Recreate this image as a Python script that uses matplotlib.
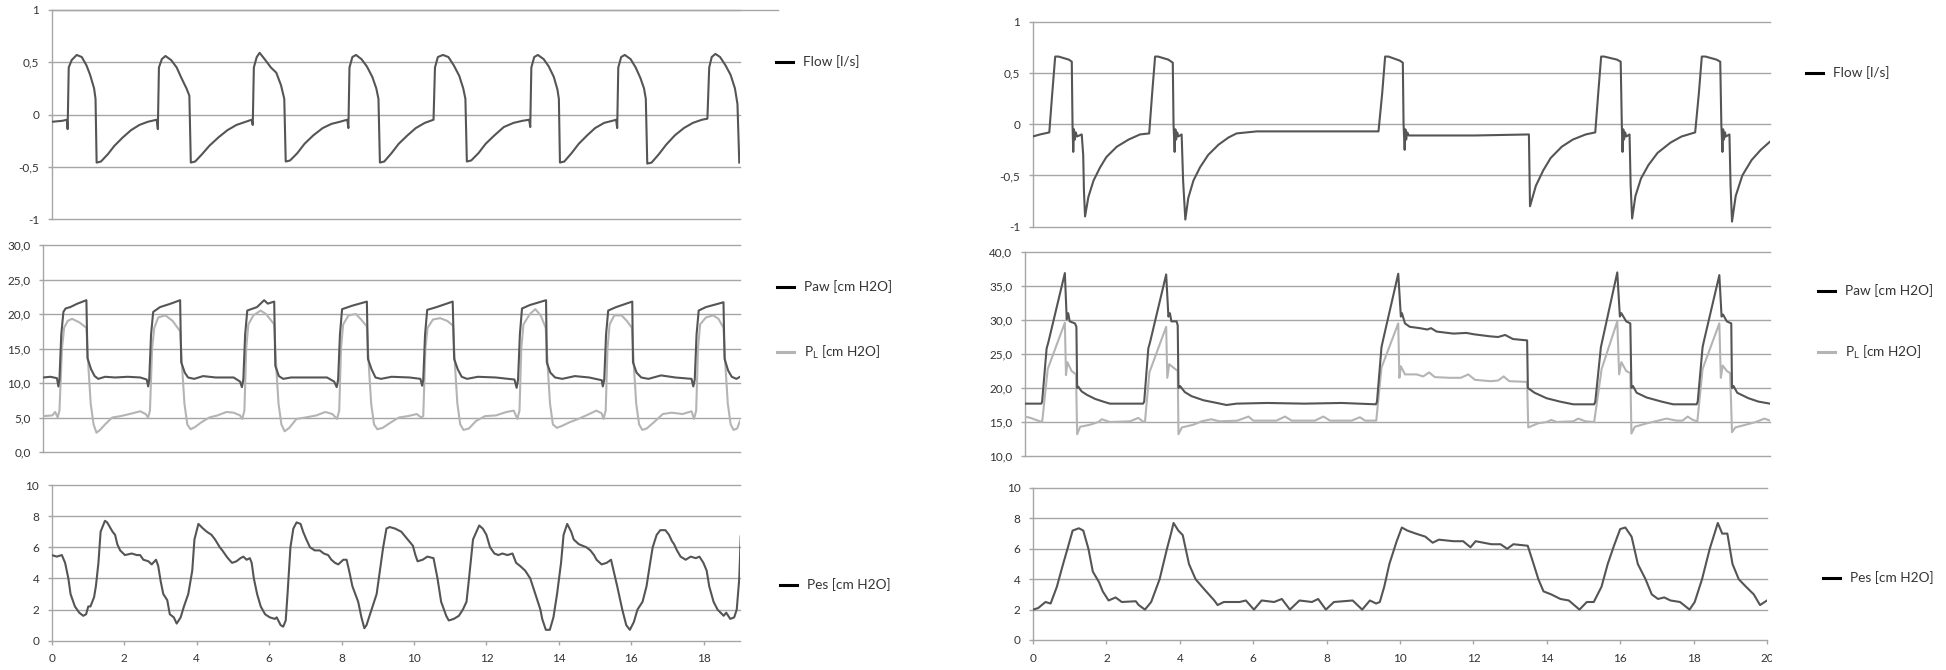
import matplotlib
matplotlib.use("Agg")
import matplotlib.pyplot as plt
from matplotlib.lines import Line2D
from matplotlib.transforms import Bbox, TransformedBbox

plt.rcParams['font.family'] = ['Lato', 'DejaVu Sans']

W, H = 1946, 670

# ---- left recording (t in s) ----
left_flow = [
    (0.00, -0.07), (0.30, -0.06), (0.42, -0.05), (0.44, -0.14), (0.47, 0.45), (0.55, 0.52), (0.69, 0.57),
    (0.83, 0.55), (0.96, 0.47), (1.06, 0.38), (1.17, 0.25), (1.21, 0.15), (1.24, -0.46), (1.36, -0.45),
    (1.55, -0.38), (1.73, -0.30), (1.96, -0.22), (2.19, -0.15), (2.42, -0.10), (2.65, -0.07), (2.90, -0.05),
    (2.93, -0.14), (2.96, 0.45), (3.04, 0.53), (3.14, 0.56), (3.30, 0.52), (3.45, 0.45), (3.58, 0.35),
    (3.72, 0.25), (3.80, 0.18), (3.84, -0.46), (3.96, -0.45), (4.15, -0.38), (4.35, -0.30), (4.60, -0.22),
    (4.85, -0.15), (5.10, -0.10), (5.35, -0.07), (5.52, -0.05),
    (5.55, -0.10), (5.58, 0.45), (5.66, 0.55), (5.74, 0.59), (5.90, 0.52), (6.05, 0.45), (6.20, 0.40),
    (6.33, 0.28), (6.42, 0.15), (6.46, -0.45), (6.58, -0.44), (6.78, -0.37), (6.98, -0.28), (7.22, -0.20),
    (7.48, -0.13), (7.72, -0.09), (7.95, -0.07), (8.16, -0.05),
    (8.19, -0.13), (8.22, 0.45), (8.30, 0.55), (8.40, 0.57), (8.55, 0.53), (8.70, 0.46), (8.85, 0.36),
    (8.96, 0.25), (9.02, 0.15), (9.06, -0.46), (9.18, -0.45), (9.38, -0.37), (9.58, -0.28), (9.82, -0.20),
    (10.05, -0.13), (10.30, -0.08), (10.54, -0.05),
    (10.58, 0.45), (10.66, 0.55), (10.80, 0.57), (10.95, 0.55), (11.10, 0.47), (11.25, 0.37), (11.36, 0.25),
    (11.42, 0.15), (11.46, -0.45), (11.58, -0.44), (11.78, -0.37), (11.98, -0.28), (12.22, -0.20),
    (12.48, -0.12), (12.75, -0.08), (13.00, -0.06), (13.18, -0.05),
    (13.21, -0.12), (13.24, 0.45), (13.32, 0.55), (13.42, 0.57), (13.58, 0.53), (13.72, 0.46), (13.86, 0.36),
    (13.96, 0.24), (14.00, 0.15), (14.03, -0.46), (14.15, -0.45), (14.35, -0.37), (14.55, -0.28),
    (14.78, -0.20), (15.00, -0.13), (15.25, -0.08), (15.48, -0.06), (15.58, -0.05),
    (15.61, -0.13), (15.64, 0.45), (15.72, 0.55), (15.82, 0.57), (15.98, 0.53), (16.12, 0.45), (16.25, 0.35),
    (16.35, 0.25), (16.40, 0.15), (16.44, -0.47), (16.56, -0.46), (16.76, -0.38), (16.96, -0.29),
    (17.20, -0.20), (17.45, -0.13), (17.70, -0.08), (17.95, -0.05), (18.10, -0.04),
    (18.15, 0.45), (18.22, 0.55), (18.32, 0.58), (18.45, 0.55), (18.60, 0.47), (18.74, 0.38), (18.86, 0.25),
    (18.93, 0.10), (18.98, -0.46),
]

left_paw = [
    (0.00, 10.8), (0.20, 10.9), (0.38, 10.7), (0.42, 9.5), (0.45, 10.5), (0.50, 17.0), (0.56, 20.3),
    (0.62, 20.8), (0.75, 21.0), (0.95, 21.5), (1.20, 22.0), (1.23, 13.6), (1.33, 12.0), (1.43, 11.0),
    (1.53, 10.6), (1.72, 10.9), (2.00, 10.8), (2.35, 10.9), (2.70, 10.8), (2.88, 10.5), (2.92, 9.5),
    (2.95, 10.5), (3.00, 17.0), (3.06, 20.3), (3.25, 21.0), (3.55, 21.5), (3.81, 22.0), (3.84, 13.0),
    (3.94, 11.5), (4.03, 10.8), (4.20, 10.6), (4.45, 11.0), (4.80, 10.8), (5.30, 10.8), (5.48, 10.2),
    (5.53, 9.4), (5.57, 10.5), (5.62, 17.0), (5.68, 20.5), (5.95, 21.0), (6.15, 22.0), (6.25, 21.5),
    (6.43, 21.8), (6.46, 12.5), (6.56, 11.0), (6.68, 10.6), (6.90, 10.8), (7.40, 10.8), (7.90, 10.8),
    (8.10, 10.2), (8.17, 9.4), (8.21, 10.5), (8.26, 17.0), (8.32, 20.7), (8.60, 21.2), (9.01, 21.8),
    (9.04, 13.5), (9.14, 12.0), (9.25, 10.8), (9.40, 10.6), (9.70, 10.9), (10.20, 10.8), (10.50, 10.6),
    (10.55, 9.6), (10.58, 10.5), (10.63, 17.0), (10.69, 20.6), (10.95, 21.0), (11.40, 21.8), (11.44, 13.5),
    (11.54, 12.0), (11.65, 10.9), (11.80, 10.6), (12.10, 10.9), (12.60, 10.8), (13.12, 10.5), (13.18, 9.3),
    (13.22, 10.5), (13.27, 17.0), (13.33, 20.8), (13.55, 21.3), (14.00, 22.0), (14.02, 13.0), (14.12, 11.5),
    (14.25, 10.8), (14.45, 10.6), (14.80, 11.0), (15.20, 10.8), (15.55, 10.4), (15.58, 9.5), (15.62, 10.5),
    (15.67, 17.0), (15.73, 20.5), (15.95, 21.0), (16.40, 21.8), (16.42, 13.0), (16.52, 11.5), (16.65, 10.8),
    (16.85, 10.6), (17.20, 11.1), (17.60, 10.8), (18.05, 10.6), (18.10, 9.5), (18.14, 10.5), (18.19, 17.0),
    (18.25, 20.5), (18.45, 21.0), (18.94, 21.7), (18.97, 13.5), (19.07, 11.8), (19.17, 10.9), (19.30, 10.6),
    (19.40, 10.9),
]

left_pl = [
    (0.00, 5.2), (0.25, 5.3), (0.33, 5.8), (0.40, 5.0), (0.45, 6.0), (0.52, 15.0), (0.58, 18.0), (0.68, 19.0),
    (0.80, 19.3), (1.00, 18.8), (1.20, 18.0), (1.26, 12.0), (1.32, 7.0), (1.40, 4.0), (1.48, 2.8), (1.58, 3.2),
    (1.72, 4.0), (1.92, 5.0), (2.15, 5.2), (2.40, 5.5), (2.70, 5.9), (2.85, 5.5), (2.92, 5.0),
    (2.97, 6.0), (3.03, 15.0), (3.09, 18.0), (3.20, 19.5), (3.40, 19.8), (3.60, 19.0), (3.81, 17.5),
    (3.87, 12.0), (3.93, 7.0), (4.01, 4.0), (4.10, 3.3), (4.22, 3.6), (4.40, 4.3), (4.62, 5.0), (4.85, 5.3),
    (5.10, 5.8), (5.30, 5.7), (5.48, 5.3), (5.54, 4.8),
    (5.60, 6.0), (5.65, 15.0), (5.71, 18.5), (5.85, 19.8), (6.05, 20.5), (6.20, 20.0), (6.43, 18.5),
    (6.49, 12.0), (6.55, 7.0), (6.63, 4.0), (6.72, 3.0), (6.85, 3.5), (7.05, 4.8), (7.30, 5.0), (7.60, 5.3),
    (7.85, 5.8), (8.05, 5.5), (8.18, 4.8),
    (8.24, 6.0), (8.29, 15.0), (8.35, 18.5), (8.50, 19.8), (8.70, 20.0), (8.85, 19.2), (9.01, 18.2),
    (9.07, 12.0), (9.13, 7.0), (9.21, 4.0), (9.30, 3.3), (9.45, 3.5), (9.65, 4.2), (9.90, 5.0), (10.15, 5.2),
    (10.40, 5.5), (10.52, 5.0),
    (10.58, 5.2), (10.64, 15.0), (10.70, 18.0), (10.85, 19.2), (11.05, 19.4), (11.25, 19.0), (11.41, 18.3),
    (11.47, 12.0), (11.53, 7.0), (11.61, 4.0), (11.70, 3.2), (11.85, 3.4), (12.05, 4.5), (12.30, 5.2),
    (12.60, 5.3), (12.90, 5.8), (13.10, 6.0), (13.20, 4.8),
    (13.26, 6.0), (13.31, 15.0), (13.37, 18.5), (13.55, 20.0), (13.70, 20.7), (13.85, 19.8), (13.99, 18.0),
    (14.05, 12.0), (14.11, 7.0), (14.19, 4.0), (14.30, 3.5), (14.45, 3.8), (14.65, 4.3), (14.90, 4.8),
    (15.20, 5.5), (15.40, 6.0), (15.55, 5.6), (15.60, 4.8),
    (15.66, 6.0), (15.71, 15.0), (15.77, 18.5), (15.90, 19.8), (16.10, 19.8), (16.25, 19.0), (16.39, 18.0),
    (16.45, 12.0), (16.51, 7.0), (16.59, 4.0), (16.68, 3.2), (16.80, 3.4), (17.00, 4.3), (17.25, 5.5),
    (17.50, 5.7), (17.80, 5.5), (18.05, 5.9), (18.12, 4.8),
    (18.18, 6.0), (18.23, 15.0), (18.29, 18.5), (18.45, 19.5), (18.65, 19.8), (18.80, 19.3), (18.94, 18.0),
    (19.00, 12.0), (19.06, 7.0), (19.14, 4.0), (19.22, 3.2), (19.32, 3.4), (19.40, 4.5),
]

left_pes = [
    (0.00, 5.5), (0.14, 5.4), (0.28, 5.5), (0.37, 5.0), (0.46, 4.0), (0.52, 3.0), (0.64, 2.2), (0.76, 1.8),
    (0.87, 1.6), (0.95, 1.7), (1.01, 2.2), (1.07, 2.2), (1.17, 2.8), (1.22, 3.5), (1.29, 5.0), (1.35, 7.0),
    (1.47, 7.7), (1.53, 7.6), (1.68, 7.0), (1.75, 6.8), (1.81, 6.2), (1.89, 5.8), (2.02, 5.5), (2.21, 5.6),
    (2.35, 5.5), (2.44, 5.5), (2.53, 5.2), (2.67, 5.1), (2.76, 4.9), (2.88, 5.2), (2.94, 4.8), (3.01, 3.8),
    (3.08, 3.0), (3.19, 2.6), (3.26, 1.7), (3.37, 1.5), (3.45, 1.1), (3.56, 1.5), (3.65, 2.2), (3.77, 3.0),
    (3.88, 4.5), (3.94, 6.5), (4.05, 7.5), (4.18, 7.2), (4.28, 7.0), (4.41, 6.8), (4.51, 6.5), (4.64, 6.0),
    (4.71, 5.8), (4.83, 5.4), (4.90, 5.2), (4.98, 5.0), (5.10, 5.1), (5.21, 5.3), (5.29, 5.4), (5.38, 5.2),
    (5.47, 5.3), (5.52, 5.0), (5.58, 4.0), (5.67, 3.0), (5.77, 2.2), (5.89, 1.7), (6.02, 1.5), (6.16, 1.4),
    (6.21, 1.5), (6.32, 1.0), (6.39, 0.9), (6.46, 1.3), (6.51, 3.0), (6.59, 6.0), (6.67, 7.2), (6.76, 7.6),
    (6.87, 7.5), (6.94, 7.0), (7.03, 6.5), (7.13, 6.0), (7.26, 5.8), (7.40, 5.8), (7.51, 5.6), (7.63, 5.5),
    (7.72, 5.2), (7.82, 5.0), (7.91, 4.9), (8.05, 5.2), (8.14, 5.2), (8.21, 4.5), (8.30, 3.5), (8.46, 2.5),
    (8.55, 1.5), (8.63, 0.8), (8.69, 1.0), (8.83, 2.0), (8.97, 3.0), (9.06, 4.5), (9.15, 6.0), (9.24, 7.2),
    (9.33, 7.3), (9.48, 7.2), (9.65, 7.0), (9.83, 6.5), (9.97, 6.1), (10.04, 5.5), (10.10, 5.1), (10.24, 5.2),
    (10.37, 5.4), (10.54, 5.3), (10.65, 4.0), (10.75, 2.5), (10.89, 1.6), (10.96, 1.3), (11.10, 1.4),
    (11.24, 1.6), (11.35, 2.0), (11.45, 2.5), (11.52, 4.0), (11.63, 6.5), (11.80, 7.4), (11.90, 7.2),
    (12.00, 6.8), (12.10, 6.0), (12.22, 5.6), (12.33, 5.5), (12.44, 5.6), (12.58, 5.5), (12.72, 5.6),
    (12.82, 5.0), (12.93, 4.8), (13.07, 4.5), (13.21, 4.0), (13.35, 3.0), (13.49, 2.0), (13.54, 1.4),
    (13.64, 0.7), (13.75, 0.7), (13.85, 1.5), (13.95, 3.0), (14.06, 5.0), (14.13, 6.8), (14.23, 7.5),
    (14.34, 7.0), (14.41, 6.5), (14.55, 6.2), (14.76, 6.0), (14.87, 5.8), (14.97, 5.5), (15.04, 5.2),
    (15.18, 4.9), (15.32, 5.0), (15.44, 5.2), (15.51, 4.5), (15.61, 3.5), (15.75, 2.0), (15.86, 1.0),
    (15.96, 0.7), (16.07, 1.2), (16.17, 2.0), (16.31, 2.5), (16.42, 3.5), (16.52, 5.0), (16.59, 6.0),
    (16.70, 6.8), (16.80, 7.1), (16.94, 7.1), (17.04, 6.8), (17.12, 6.4), (17.18, 6.2), (17.26, 5.8),
    (17.36, 5.4), (17.50, 5.2), (17.64, 5.4), (17.78, 5.3), (17.88, 5.4), (17.99, 5.0), (18.08, 4.5),
    (18.15, 3.5), (18.27, 2.5), (18.38, 2.0), (18.55, 1.6), (18.62, 1.8), (18.73, 1.4), (18.84, 1.5),
    (18.91, 2.0), (18.98, 4.0), (19.02, 6.7),
]

# ---- right recording ----
right_flow = [
    (0.00, -0.12), (0.20, -0.10), (0.45, -0.08), (0.53, 0.30), (0.61, 0.66), (0.70, 0.66), (0.98, 0.63),
    (1.06, 0.61), (1.08, 0.00), (1.10, -0.27), (1.12, -0.05), (1.14, -0.15), (1.17, -0.08), (1.20, -0.12),
    (1.33, -0.10), (1.37, -0.30), (1.39, -0.65), (1.42, -0.90), (1.51, -0.71), (1.65, -0.55), (1.83, -0.42),
    (2.00, -0.32), (2.28, -0.22), (2.60, -0.15), (2.91, -0.10), (3.16, -0.09),
    (3.24, 0.30), (3.32, 0.66), (3.40, 0.66), (3.68, 0.63), (3.80, 0.60), (3.82, 0.00), (3.85, -0.27),
    (3.87, -0.05), (3.89, -0.15), (3.92, -0.08), (3.95, -0.12), (4.04, -0.10), (4.08, -0.55), (4.14, -0.93),
    (4.22, -0.72), (4.36, -0.55), (4.54, -0.42), (4.76, -0.30), (5.04, -0.20), (5.31, -0.13), (5.53, -0.09),
    (6.08, -0.07), (7.00, -0.07), (8.00, -0.07), (9.38, -0.07),
    (9.48, 0.30), (9.56, 0.66), (9.65, 0.66), (9.96, 0.62), (10.04, 0.60), (10.06, 0.00), (10.09, -0.25),
    (10.11, -0.05), (10.13, -0.15), (10.16, -0.08), (10.20, -0.11), (11.00, -0.11), (12.00, -0.11),
    (13.46, -0.10), (13.49, -0.80), (13.65, -0.60), (13.85, -0.45), (14.05, -0.33), (14.35, -0.22),
    (14.65, -0.15), (15.00, -0.10), (15.26, -0.08),
    (15.34, 0.30), (15.42, 0.66), (15.50, 0.66), (15.85, 0.63), (15.95, 0.61), (15.98, 0.00), (16.00, -0.27),
    (16.02, -0.05), (16.04, -0.15), (16.07, -0.08), (16.10, -0.12), (16.19, -0.10), (16.22, -0.60),
    (16.26, -0.92), (16.35, -0.70), (16.50, -0.53), (16.70, -0.40), (16.95, -0.28), (17.30, -0.18),
    (17.60, -0.12), (17.97, -0.08),
    (18.07, 0.30), (18.15, 0.66), (18.25, 0.66), (18.55, 0.63), (18.65, 0.61), (18.68, 0.00), (18.71, -0.27),
    (18.73, -0.05), (18.75, -0.15), (18.78, -0.08), (18.80, -0.12), (18.90, -0.10), (18.93, -0.60),
    (18.97, -0.95), (19.07, -0.70), (19.25, -0.50), (19.50, -0.35), (19.75, -0.25), (20.00, -0.17),
]

right_paw = [
    (0.00, 17.7), (0.44, 17.7), (0.46, 18.0), (0.58, 25.8), (0.63, 26.8), (1.07, 36.9), (1.12, 30.1),
    (1.16, 31.0), (1.20, 29.8), (1.34, 29.5), (1.38, 29.0), (1.40, 20.0), (1.43, 20.2), (1.52, 19.5),
    (1.66, 19.0), (1.88, 18.4), (2.10, 18.0), (2.28, 17.7), (3.17, 17.7),
    (3.20, 18.0), (3.31, 25.8), (3.36, 26.8), (3.79, 36.7), (3.85, 30.5), (3.89, 31.0), (3.93, 29.8),
    (4.07, 29.8), (4.10, 29.2), (4.12, 20.0), (4.16, 20.3), (4.29, 19.4), (4.47, 18.8), (4.79, 18.2),
    (5.15, 17.8), (5.41, 17.5), (5.68, 17.7), (6.50, 17.8), (7.50, 17.7), (8.50, 17.8), (9.42, 17.6),
    (9.45, 18.0), (9.57, 26.0), (9.61, 27.0), (10.02, 36.8), (10.09, 30.5), (10.12, 31.0), (10.20, 29.5),
    (10.33, 29.0), (10.60, 28.8), (10.80, 28.6), (10.90, 28.8), (11.05, 28.3), (11.50, 28.0), (11.85, 28.1),
    (12.05, 27.9), (12.48, 27.6), (12.70, 27.5), (12.89, 27.8), (13.10, 27.2), (13.48, 27.0),
    (13.50, 20.0), (13.68, 19.3), (14.00, 18.5), (14.36, 18.0), (14.72, 17.6), (15.28, 17.6),
    (15.31, 18.0), (15.46, 26.0), (15.50, 27.0), (15.90, 37.0), (15.97, 30.5), (16.01, 31.0), (16.14, 29.8),
    (16.25, 29.5), (16.28, 20.0), (16.32, 20.3), (16.42, 19.3), (16.69, 18.6), (17.09, 18.0), (17.40, 17.6),
    (18.03, 17.6), (18.06, 18.0), (18.19, 26.0), (18.23, 27.0), (18.64, 36.6), (18.70, 30.5), (18.74, 30.8),
    (18.84, 29.8), (18.96, 29.5), (18.98, 20.0), (19.02, 20.3), (19.12, 19.3), (19.42, 18.5), (19.69, 18.0),
    (20.00, 17.7),
]

right_pl = [
    (0.00, 15.8), (0.15, 15.6), (0.35, 15.2), (0.46, 15.0), (0.48, 16.0), (0.61, 22.8), (1.07, 29.6),
    (1.10, 21.9), (1.14, 23.8), (1.25, 22.5), (1.37, 22.0), (1.40, 13.2), (1.48, 14.3), (1.75, 14.6),
    (1.97, 15.0), (2.06, 15.4), (2.28, 15.0), (2.82, 15.1), (3.04, 15.6), (3.16, 15.1), (3.22, 15.0),
    (3.34, 22.3), (3.79, 29.0), (3.82, 21.5), (3.87, 23.5), (4.03, 22.8), (4.10, 22.5), (4.12, 13.2),
    (4.21, 14.2), (4.52, 14.6), (4.74, 15.1), (5.00, 15.4), (5.22, 15.1), (5.70, 15.2), (6.00, 15.8),
    (6.13, 15.2), (6.75, 15.2), (6.98, 15.8), (7.16, 15.2), (7.78, 15.2), (8.01, 15.8), (8.19, 15.2),
    (8.77, 15.2), (8.99, 15.7), (9.13, 15.2), (9.43, 15.2),
    (9.57, 23.0), (10.02, 29.5), (10.05, 21.5), (10.09, 23.2), (10.20, 22.0), (10.51, 22.0), (10.69, 21.7),
    (10.85, 22.3), (11.00, 21.6), (11.40, 21.5), (11.70, 21.5), (11.90, 22.0), (12.08, 21.2), (12.50, 21.0),
    (12.70, 21.1), (12.85, 21.7), (13.00, 21.0), (13.48, 20.9), (13.51, 14.2), (13.77, 14.8), (14.00, 15.0),
    (14.13, 15.3), (14.27, 15.0), (14.72, 15.1), (14.85, 15.5), (15.05, 15.1), (15.28, 15.0),
    (15.48, 22.8), (15.90, 29.8), (15.95, 22.0), (16.01, 23.8), (16.14, 22.5), (16.25, 22.2), (16.28, 13.3),
    (16.37, 14.3), (16.69, 14.8), (17.00, 15.2), (17.22, 15.5), (17.49, 15.2), (17.65, 15.2), (17.79, 15.8),
    (17.93, 15.3), (18.05, 15.1),
    (18.19, 22.8), (18.64, 29.5), (18.68, 21.5), (18.73, 23.3), (18.84, 22.5), (18.93, 22.2), (18.98, 13.5),
    (19.07, 14.2), (19.35, 14.6), (19.62, 15.0), (19.85, 15.5), (20.00, 15.2),
]

right_pes = [
    (0.00, 2.0), (0.14, 2.1), (0.34, 2.5), (0.48, 2.4), (0.65, 3.5), (0.82, 5.0), (0.94, 6.0), (1.08, 7.2),
    (1.25, 7.35), (1.37, 7.2), (1.51, 6.0), (1.63, 4.5), (1.80, 3.8), (1.90, 3.2), (2.06, 2.6), (2.25, 2.8),
    (2.42, 2.5), (2.80, 2.55), (2.88, 2.3), (3.05, 2.0), (3.22, 2.5), (3.45, 4.0), (3.65, 6.0), (3.76, 7.0),
    (3.83, 7.7), (3.96, 7.2), (4.08, 6.9), (4.25, 5.0), (4.43, 4.0), (4.68, 3.3), (4.94, 2.6), (5.03, 2.3),
    (5.20, 2.5), (5.63, 2.5), (5.80, 2.6), (6.02, 2.0), (6.23, 2.6), (6.57, 2.5), (6.78, 2.7), (7.00, 2.0),
    (7.26, 2.6), (7.60, 2.5), (7.77, 2.7), (7.98, 2.0), (8.20, 2.5), (8.71, 2.6), (8.97, 2.0), (9.18, 2.6),
    (9.35, 2.4), (9.45, 2.5), (9.57, 3.5), (9.71, 5.0), (9.91, 6.5), (10.05, 7.4), (10.20, 7.2),
    (10.43, 7.0), (10.69, 6.8), (10.89, 6.4), (11.06, 6.6), (11.46, 6.5), (11.72, 6.5), (11.92, 6.1),
    (12.06, 6.5), (12.49, 6.3), (12.74, 6.3), (12.92, 6.0), (13.09, 6.3), (13.48, 6.2), (13.64, 5.0),
    (13.77, 4.0), (13.91, 3.2), (14.12, 3.0), (14.37, 2.7), (14.60, 2.6), (14.89, 2.0), (15.09, 2.5),
    (15.28, 2.5), (15.49, 3.5), (15.66, 5.0), (15.83, 6.2), (16.00, 7.3), (16.14, 7.4), (16.31, 6.8),
    (16.48, 5.0), (16.69, 4.0), (16.86, 3.0), (17.03, 2.7), (17.20, 2.8), (17.37, 2.6), (17.63, 2.5),
    (17.89, 2.0), (18.03, 2.5), (18.23, 4.0), (18.44, 6.0), (18.66, 7.7), (18.78, 7.0), (18.92, 7.0),
    (19.06, 5.0), (19.23, 4.0), (19.43, 3.5), (19.64, 3.0), (19.81, 2.3), (20.00, 2.6),
]

flow_ticks = [-1, -0.5, 0, 0.5, 1]
flow_labels = ["-1", "-0,5", "0", "0,5", "1"]
left_p_ticks = [0, 5, 10, 15, 20, 25, 30]
right_p_ticks = [10, 15, 20, 25, 30, 35, 40]
pes_ticks = [0, 2, 4, 6, 8, 10]
left_x_ticks = list(range(0, 19, 2))
right_x_ticks = list(range(0, 21, 2))

DARK = "#555555"
LIGHT = "#b4b4b4"
GRID = "#a6a6a6"
TXT = "#333333"

fig = plt.figure(figsize=(W / 100, H / 100), dpi=100)


def px_axes(x0, x1, y0, y1):
    return fig.add_axes([x0 / W, 1 - y1 / H, (x1 - x0) / W, (y1 - y0) / H])


def style(ax, ticks, labels, xlim, xticks=None):
    ax.set_xlim(*xlim)
    ax.set_ylim(ticks[0], ticks[-1])
    ax.set_yticks(ticks)
    ax.set_yticklabels(labels)
    for s in ("top", "right", "bottom"):
        ax.spines[s].set_visible(False)
    ax.spines["left"].set_color(GRID)
    ax.spines["left"].set_linewidth(1.0)
    ax.yaxis.grid(True, color=GRID, lw=1.0)
    for gl in ax.get_ygridlines():
        gl.set_clip_on(False)
    ax.tick_params(axis="y", length=3, width=1.0, color=GRID, pad=6, labelsize=8.5, labelcolor=TXT)
    if xticks is None:
        ax.set_xticks([])
    else:
        ax.set_xticks(xticks)
        ax.set_xticklabels([str(v) for v in xticks])
        ax.tick_params(axis="x", length=3, width=1.0, color=GRID, pad=6, labelsize=8.5, labelcolor=TXT)
    ax.set_facecolor("none")


def draw(ax, pts, color, lw=1.5):
    ax.plot([p[0] for p in pts], [p[1] for p in pts], color=color, lw=lw, solid_joinstyle="round", zorder=3)


def legend_item(x, y, text, color):
    fig.add_artist(Line2D([x / W, (x + 17) / W], [1 - y / H, 1 - y / H], color=color, lw=2.2))
    fig.text((x + 27) / W, 1 - y / H, text, ha="left", va="center", fontsize=9.8, color=TXT)


def comma(v):
    return ("%.1f" % v).replace(".", ",")


# left column
ax1 = px_axes(51.7, 740, 10, 219)
style(ax1, flow_ticks, flow_labels, (0, 19))
draw(ax1, left_flow, DARK)
ax1.plot([0, 1.055], [1, 1], transform=ax1.transAxes, color=GRID, lw=1.0, clip_on=False)

ax2 = px_axes(43.3, 740, 245, 452)
style(ax2, left_p_ticks, [comma(v) for v in left_p_ticks], (0, 19.4))
draw(ax2, left_pl, LIGHT)
draw(ax2, left_paw, DARK)

ax3 = px_axes(51.7, 740, 485, 640.7)
style(ax3, pes_ticks, [str(v) for v in pes_ticks], (0, 19), left_x_ticks)
draw(ax3, left_pes, DARK)

# right column
ax4 = px_axes(1032.7, 1770, 21.7, 226.7)
style(ax4, flow_ticks, flow_labels, (0, 20))
draw(ax4, right_flow, DARK)

ax5 = px_axes(1025, 1770, 252, 456)
style(ax5, right_p_ticks, [comma(v) for v in right_p_ticks], (0, 20))
draw(ax5, right_pl, LIGHT)
draw(ax5, right_paw, DARK)

ax6 = px_axes(1033, 1767, 488, 640)
style(ax6, pes_ticks, [str(v) for v in pes_ticks], (0, 20), right_x_ticks)
draw(ax6, right_pes, DARK)
# the last tick label is cut by the chart border
clip = TransformedBbox(Bbox([[0, 0], [1772 / W, 1]]), fig.transFigure)
for lbl in ax6.get_xticklabels():
    lbl.set_clip_box(clip)
    lbl.set_clip_on(True)

pl_text = r"P$_\mathregular{L}$ [cm H2O]"
legend_item(776, 62, "Flow [l/s]", "black")
legend_item(777, 287, "Paw [cm H2O]", "black")
legend_item(777, 352, pl_text, LIGHT)
legend_item(780, 585, "Pes [cm H2O]", "black")
legend_item(1806, 73, "Flow [l/s]", "black")
legend_item(1818, 291, "Paw [cm H2O]", "black")
legend_item(1818, 352, pl_text, LIGHT)
legend_item(1823, 578, "Pes [cm H2O]", "black")

fig.savefig("out.png", dpi=100, facecolor="white")
